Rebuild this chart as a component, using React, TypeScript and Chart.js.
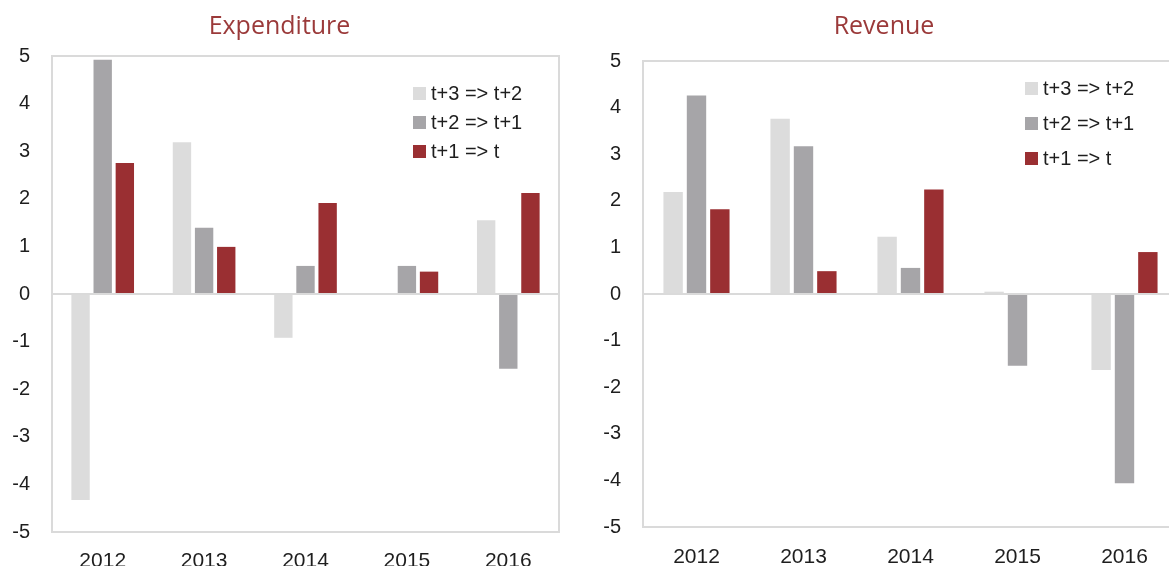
import React, { useEffect, useRef } from "react";
import { Chart, registerables } from "chart.js";

Chart.register(...registerables);

// ---------- data ----------
const years = ["2012", "2013", "2014", "2015", "2016"];
const seriesLabels = ["t+3 => t+2", "t+2 => t+1", "t+1 => t"];
const seriesColors = ["#dcdcdc", "#a6a5a8", "#9a2f32"];

const expT3 = [-4.33, 3.19, -0.92, null, 1.55];
const expT2 = [4.92, 1.39, 0.59, 0.59, -1.57];
const expT1 = [2.75, 0.99, 1.91, 0.47, 2.12];

const revT3 = [2.19, 3.76, 1.23, 0.05, -1.63];
const revT2 = [4.26, 3.17, 0.56, -1.54, -4.06];
const revT1 = [1.82, 0.49, 2.24, null, 0.9];

const yMin = -5;
const yMax = 5;
const yStep = 1;

const TICK_FONT = "'Liberation Sans', Arial, sans-serif";

const framePlugin = {
  id: "frame",
  afterDatasetsDraw(chart: any) {
    const { ctx, chartArea } = chart;
    const y0 = chart.scales.y.getPixelForValue(0);
    ctx.save();
    ctx.strokeStyle = "#dadada";
    ctx.lineWidth = 2;
    ctx.strokeRect(chartArea.left, chartArea.top, chartArea.right - chartArea.left, chartArea.bottom - chartArea.top);
    ctx.beginPath();
    ctx.moveTo(chartArea.left, y0);
    ctx.lineTo(chartArea.right, y0);
    ctx.stroke();
    ctx.restore();
  },
};

type PanelProps = {
  title: string;
  s3: (number | null)[];
  s2: (number | null)[];
  s1: (number | null)[];
  left: number;
  width: number;
  height: number;
  yWidth: number;
  padRight: number;
  titlePadTop: number;
  titlePadBottom: number;
  xHeight: number;
  xPad: number;
  yPad: number;
  legendLeft: number;
  legendRows: number[];
};

function Panel(p: PanelProps) {
  const ref = useRef<HTMLCanvasElement | null>(null);
  useEffect(() => {
    if (!ref.current) return;
    const data = [p.s3, p.s2, p.s1];
    const chart = new Chart(ref.current, {
      type: "bar",
      data: {
        labels: years,
        datasets: data.map((d, i) => ({
          label: seriesLabels[i],
          data: d,
          backgroundColor: seriesColors[i],
          borderWidth: 0,
          categoryPercentage: 0.655,
          barPercentage: 0.83,
        })),
      },
      options: {
        animation: false,
        responsive: false,
        maintainAspectRatio: false,
        layout: { padding: { left: 0, right: p.padRight, top: 0, bottom: 0 } },
        plugins: {
          legend: { display: false },
          tooltip: { enabled: false },
          title: {
            display: true,
            text: p.title,
            color: "#9b3a3a",
            font: { family: "'Open Sans', sans-serif", size: 25, weight: "normal" as any },
            padding: { top: p.titlePadTop, bottom: p.titlePadBottom },
          },
        },
        scales: {
          x: {
            grid: { display: false, drawTicks: false },
            border: { display: false },
            ticks: {
              color: "#1e1e1e",
              font: { family: TICK_FONT, size: 21 },
              padding: p.xPad,
              maxRotation: 0,
            },
            afterFit: (s: any) => {
              s.height = p.xHeight;
            },
          },
          y: {
            min: yMin,
            max: yMax,
            grid: { display: false, drawTicks: false },
            border: { display: false },
            ticks: {
              stepSize: yStep,
              color: "#1e1e1e",
              font: { family: TICK_FONT, size: 20 },
              padding: p.yPad,
            },
            afterFit: (s: any) => {
              s.width = p.yWidth;
            },
          },
        },
      },
      plugins: [framePlugin],
    });
    return () => chart.destroy();
  }, []);

  return (
    <div style={{ position: "absolute", left: p.left, top: 0, width: p.width, height: p.height }}>
      <canvas ref={ref} width={p.width} height={p.height} style={{ width: p.width, height: p.height, display: "block" }} />
      {seriesLabels.map((lab, i) => (
        <div
          key={lab}
          style={{
            position: "absolute",
            left: p.legendLeft,
            top: p.legendRows[i] - 12,
            height: 24,
            lineHeight: "24px",
            display: "flex",
            alignItems: "center",
            fontFamily: TICK_FONT,
            fontSize: 20,
            color: "#1e1e1e",
            whiteSpace: "pre",
          }}
        >
          <span style={{ display: "inline-block", width: 13, height: 13, background: seriesColors[i], marginRight: 5 }} />
          <span>{lab}</span>
        </div>
      ))}
    </div>
  );
}

export default function App() {
  return (
    <div style={{ position: "absolute", left: 0, top: 0, width: 1169, height: 566, overflow: "hidden", background: "#fff" }}>
      <Panel
        title="Expenditure"
        s3={expT3}
        s2={expT2}
        s1={expT1}
        left={0}
        width={572}
        height={600}
        yWidth={52}
        padRight={13}
        titlePadTop={12}
        titlePadBottom={14}
        xHeight={68}
        xPad={17}
        yPad={22}
        legendLeft={413}
        legendRows={[93, 122, 151]}
      />
      <Panel
        title="Revenue"
        s3={revT3}
        s2={revT2}
        s1={revT1}
        left={590}
        width={596}
        height={600}
        yWidth={53}
        padRight={8}
        titlePadTop={12}
        titlePadBottom={19}
        xHeight={73}
        xPad={18}
        yPad={22}
        legendLeft={435}
        legendRows={[88, 123, 158]}
      />
    </div>
  );
}
